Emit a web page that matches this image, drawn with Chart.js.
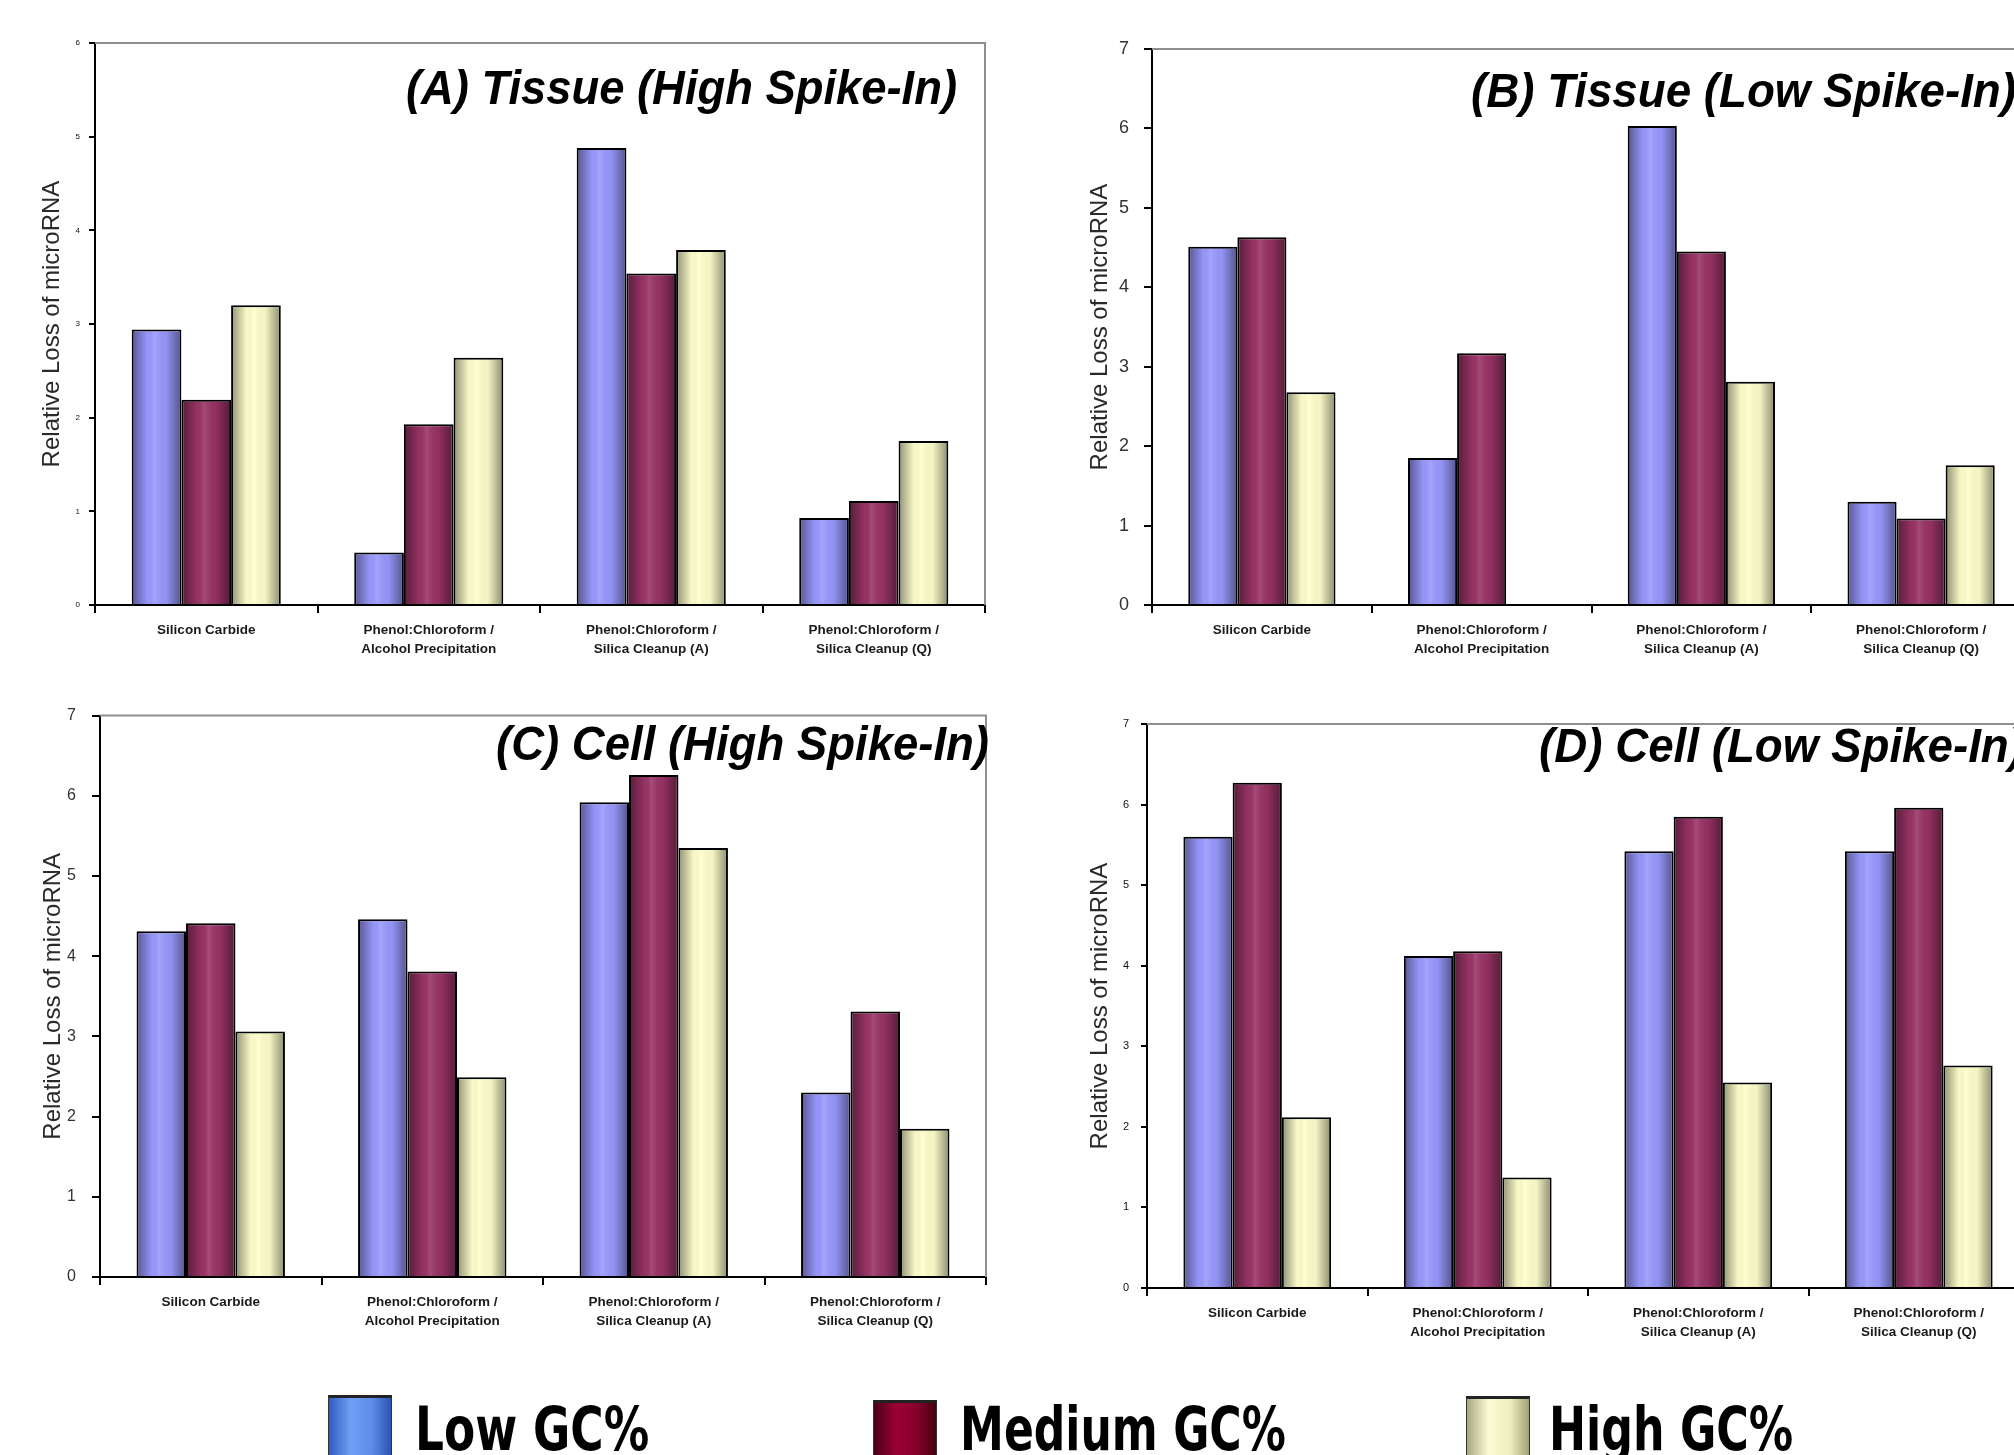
<!DOCTYPE html>
<html>
<head>
<meta charset="utf-8">
<script src="https://cdn.jsdelivr.net/npm/chart.js@4.4.0/dist/chart.umd.min.js"></script>
<style>
html, body { margin: 0; padding: 0; background: #fff; overflow: hidden; }
#wrap { position: relative; width: 2014px; height: 1455px; overflow: hidden; background: #fff; }
#wrap canvas { position: absolute; }
.swatch { position: absolute; width: 64px; height: 80px; border: 1px solid #333; border-top: 3px solid #222; box-sizing: border-box; }
.keytext { position: absolute; font: bold 61px "DejaVu Sans", Verdana, sans-serif; line-height: 63px; color: #000; white-space: nowrap; transform-origin: 0 0; }
</style>
</head>
<body>
<div id="wrap">
  <canvas id="chartA" width="1000" height="690" style="left:0px;top:0px"></canvas>
  <canvas id="chartB" width="1060" height="690" style="left:1040px;top:0px"></canvas>
  <canvas id="chartC" width="1000" height="660" style="left:0px;top:690px"></canvas>
  <canvas id="chartD" width="1060" height="660" style="left:1040px;top:690px"></canvas>

  <div class="swatch" style="left:328px;top:1395px;background:linear-gradient(to right,#2f5cc0,#6f9ff5 35%,#5b8be6 70%,#2b53b0)"></div>
  <div class="keytext" id="key0" data-w="234" style="left:415px;top:1397px"></div>
  <div class="swatch" style="left:873px;top:1400px;background:linear-gradient(to right,#4a0016,#9a0035 35%,#85002c 70%,#45000f)"></div>
  <div class="keytext" id="key1" data-w="326" style="left:960px;top:1397px"></div>
  <div class="swatch" style="left:1466px;top:1396px;background:linear-gradient(to right,#a8a880,#fbfbd6 35%,#eeeebe 70%,#a0a078)"></div>
  <div class="keytext" id="key2" data-w="244" style="left:1549px;top:1397px"></div>
</div>

<script>
const categories = [
    ['Silicon Carbide'],
    ['Phenol:Chloroform /', 'Alcohol Precipitation'],
    ['Phenol:Chloroform /', 'Silica Cleanup (A)'],
    ['Phenol:Chloroform /', 'Silica Cleanup (Q)']
];
const seriesNames = ['Low GC%', 'Medium GC%', 'High GC%'];
const seriesColors = ['#9999ff', '#993366', '#ffffcc'];

// (A) Tissue, high spike-in
const tissueHighLow = [2.94, 0.56, 4.88, 0.93];
const tissueHighMedium = [2.19, 1.93, 3.54, 1.11];
const tissueHighHigh = [3.20, 2.64, 3.79, 1.75];

// (B) Tissue, low spike-in (no high GC bar for alcohol precipitation)
const tissueLowLow = [4.51, 1.85, 6.03, 1.30];
const tissueLowMedium = [4.63, 3.17, 4.45, 1.09];
const tissueLowHigh = [2.68, null, 2.81, 1.76];

// (C) Cell, high spike-in
const cellHighLow = [4.31, 4.46, 5.92, 2.30];
const cellHighMedium = [4.41, 3.81, 6.26, 3.31];
const cellHighHigh = [3.06, 2.49, 5.35, 1.85];

// (D) Cell, low spike-in
const cellLowLow = [5.60, 4.12, 5.42, 5.42];
const cellLowMedium = [6.27, 4.18, 5.85, 5.96];
const cellLowHigh = [2.12, 1.37, 2.55, 2.76];

const yTitle = 'Relative Loss of microRNA';

const panels = [
    {
        id: 'chartA', title: '(A) Tissue (High Spike-In)', yMax: 6,
        series: [tissueHighLow, tissueHighMedium, tissueHighHigh],
        canvasLeft: 0, canvasTop: 0,
        yWidth: 95, xHeight: 85, padTop: 43, padRight: 15, titlePad: 38,
        tickSize: 8, tickColor: '#111', tickLen: 6, tickPad: 9,
        titleX: 406, titleY: 104, titleW: 551
    },
    {
        id: 'chartB', title: '(B) Tissue (Low Spike-In)', yMax: 7,
        series: [tissueLowLow, tissueLowMedium, tissueLowHigh],
        canvasLeft: 1040, canvasTop: 0,
        yWidth: 112, xHeight: 85, padTop: 49, padRight: 69, titlePad: 46,
        tickSize: 18, tickColor: '#333', tickLen: 8, tickPad: 15,
        titleX: 1471, titleY: 107, titleW: 545
    },
    {
        id: 'chartC', title: '(C) Cell (High Spike-In)', yMax: 7,
        series: [cellHighLow, cellHighMedium, cellHighHigh],
        canvasLeft: 0, canvasTop: 690,
        yWidth: 100, xHeight: 73, padTop: 24, padRight: 14, titlePad: 39,
        tickSize: 16, tickColor: '#333', tickLen: 8, tickPad: 16,
        titleX: 496, titleY: 760, titleW: 493
    },
    {
        id: 'chartD', title: '(D) Cell (Low Spike-In)', yMax: 7,
        series: [cellLowLow, cellLowMedium, cellLowHigh],
        canvasLeft: 1040, canvasTop: 690,
        yWidth: 107, xHeight: 62, padTop: 34, padRight: 71, titlePad: 46,
        tickSize: 11, tickColor: '#111', tickLen: 6, tickPad: 12,
        titleX: 1539, titleY: 762, titleW: 485
    }
];

// gray plot-area border on top and right, like the Excel frame
const framePlugin = {
    id: 'frame',
    beforeDatasetsDraw(chart) {
        const { left, top, right, bottom } = chart.chartArea;
        const ctx = chart.ctx;
        ctx.save();
        ctx.strokeStyle = '#8f8f8f';
        ctx.lineWidth = 2;
        ctx.beginPath();
        ctx.moveTo(left, top);
        ctx.lineTo(right, top);
        ctx.lineTo(right, bottom);
        ctx.stroke();
        ctx.restore();
    }
};

// cylinder-ish shading over each bar
const shadePlugin = {
    id: 'shade',
    afterDatasetsDraw(chart) {
        const ctx = chart.ctx;
        chart.data.datasets.forEach((ds, i) => {
            chart.getDatasetMeta(i).data.forEach(bar => {
                const { x, y, base, width } = bar.getProps(['x', 'y', 'base', 'width'], true);
                if (y == null || isNaN(y) || base - y < 4) return;
                const l = x - width / 2 + 2, r = x + width / 2 - 2;
                const g = ctx.createLinearGradient(l, 0, r, 0);
                g.addColorStop(0, 'rgba(0,0,0,0.38)');
                g.addColorStop(0.3, 'rgba(0,0,0,0.02)');
                g.addColorStop(0.45, 'rgba(255,255,255,0.12)');
                g.addColorStop(0.7, 'rgba(0,0,0,0.04)');
                g.addColorStop(1, 'rgba(0,0,0,0.4)');
                ctx.save();
                ctx.fillStyle = g;
                ctx.fillRect(l, y + 2, r - l, base - y - 2);
                ctx.restore();
            });
        });
    }
};

const panelTitlePlugin = {
    id: 'panelTitle',
    afterDraw(chart, args, opts) {
        const ctx = chart.ctx;
        ctx.save();
        ctx.font = 'italic bold 48px "Liberation Sans", Arial, sans-serif';
        ctx.fillStyle = '#000';
        ctx.textBaseline = 'alphabetic';
        ctx.textAlign = 'left';
        const w = ctx.measureText(opts.text).width;
        ctx.translate(opts.x, opts.y);
        ctx.scale(opts.width / w, 1);
        ctx.fillText(opts.text, 0, 0);
        ctx.restore();
    }
};

panels.forEach(p => {
    const ctx = document.getElementById(p.id).getContext('2d');
    new Chart(ctx, {
        type: 'bar',
        data: {
            labels: categories,
            datasets: p.series.map((values, k) => ({
                label: seriesNames[k],
                data: values,
                backgroundColor: seriesColors[k],
                borderColor: '#000',
                borderWidth: 2,
                borderSkipped: 'bottom',
                categoryPercentage: 0.67,
                barPercentage: 1.0
            }))
        },
        options: {
            responsive: false,
            animation: false,
            devicePixelRatio: 1,
            layout: { padding: { left: 0, top: p.padTop, right: p.padRight, bottom: 0 } },
            plugins: {
                legend: { display: false },
                tooltip: { enabled: false },
                panelTitle: {
                    text: p.title,
                    x: p.titleX - p.canvasLeft,
                    y: p.titleY - p.canvasTop,
                    width: p.titleW
                }
            },
            scales: {
                x: {
                    afterFit: scale => { scale.height = p.xHeight; },
                    border: { color: '#000', width: 2 },
                    grid: { offset: true, drawOnChartArea: false, drawTicks: true, tickLength: 8, color: '#000', lineWidth: 2 },
                    ticks: {
                        autoSkip: false,
                        maxRotation: 0,
                        padding: 7,
                        color: '#1a1a1a',
                        font: { family: '"Liberation Sans", Arial, sans-serif', size: 13.5, weight: 'bold', lineHeight: 1.45 }
                    }
                },
                y: {
                    min: 0,
                    max: p.yMax,
                    afterFit: scale => { scale.width = p.yWidth; },
                    border: { color: '#000', width: 2 },
                    grid: { drawOnChartArea: false, drawTicks: true, tickLength: p.tickLen, color: '#000', lineWidth: 2 },
                    ticks: {
                        stepSize: 1,
                        padding: p.tickPad,
                        color: p.tickColor,
                        font: { family: '"Liberation Sans", Arial, sans-serif', size: p.tickSize }
                    },
                    title: {
                        display: true,
                        text: yTitle,
                        color: '#2a2a2a',
                        padding: { top: p.titlePad, bottom: 0 },
                        font: { family: '"Liberation Sans", Arial, sans-serif', size: 24 }
                    }
                }
            }
        },
        plugins: [framePlugin, shadePlugin, panelTitlePlugin]
    });
});

// shared legend under the four panels
seriesNames.forEach((name, k) => {
    const el = document.getElementById('key' + k);
    el.textContent = name;
    const target = Number(el.dataset.w);
    el.style.transform = 'scaleX(' + (target / el.offsetWidth) + ')';
});
</script>
</body>
</html>
